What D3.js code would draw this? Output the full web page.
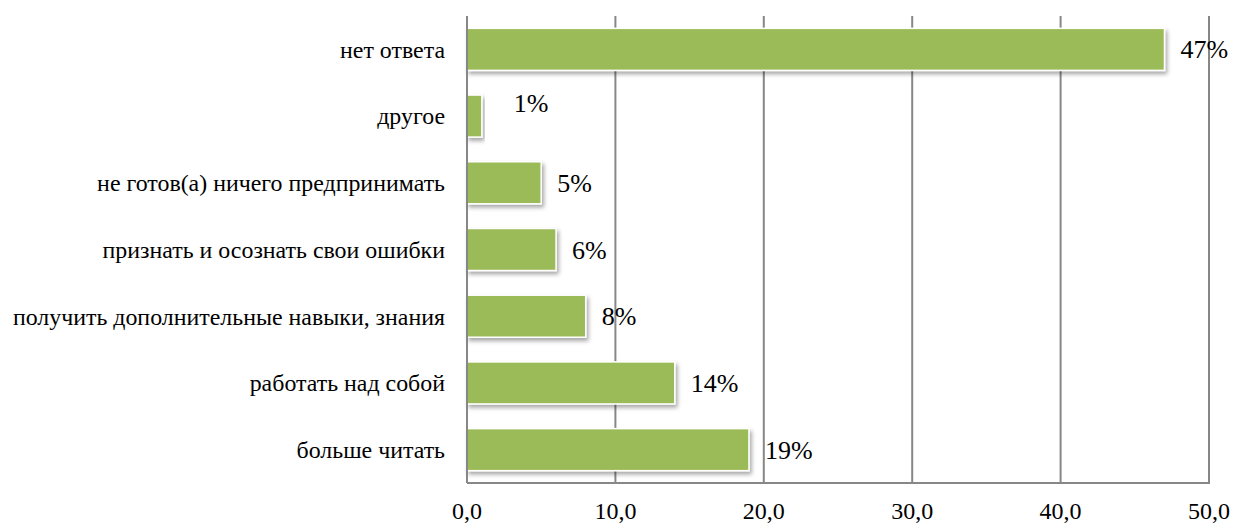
<!DOCTYPE html>
<html><head><meta charset="utf-8">
<script src="https://cdn.jsdelivr.net/npm/d3@7"></script>
<style>body{margin:0;background:#fff;} svg{display:block;}</style>
</head><body>
<svg id="c" width="1237" height="525" font-family="Liberation Serif"></svg>
<script>
const categories = ["нет ответа","другое","не готов(а) ничего предпринимать","признать и осознать свои ошибки","получить дополнительные навыки, знания","работать над собой","больше читать"];
const values = [47,1,5,6,8,14,19];
const valueLabels = ["47%","1%","5%","6%","8%","14%","19%"];
const tickValues = [0,10,20,30,40,50];
const tickLabels = ["0,0","10,0","20,0","30,0","40,0","50,0"];

const data = categories.map((c,i)=>({c, v: values[i], l: valueLabels[i]}));
const svg = d3.select("#c");
const m = {left:467, right:1209, top:16, bottom:483};
const x = d3.scaleLinear().domain([0,50]).range([m.left, m.right]);
const y = d3.scaleBand().domain(categories).range([m.top, m.bottom]).paddingInner(0.37).paddingOuter(0.185);

const defs = svg.append("defs");
const f = defs.append("filter").attr("id","sh").attr("x","-10%").attr("y","-30%").attr("width","130%").attr("height","170%");
f.append("feDropShadow").attr("dx",2).attr("dy",3).attr("stdDeviation",2).attr("flood-color","#000").attr("flood-opacity",0.35);

// gridlines
svg.append("g").selectAll("line").data(tickValues.slice(1)).join("line")
  .attr("x1",d=>x(d)).attr("x2",d=>x(d)).attr("y1",m.top).attr("y2",m.bottom)
  .attr("stroke","#878787").attr("stroke-width",2);

// bars
svg.append("g").selectAll("rect").data(data).join("rect")
  .attr("x",x(0)).attr("y",d=>y(d.c)).attr("width",d=>x(d.v)-x(0)).attr("height",y.bandwidth())
  .attr("fill","#9BBB59").attr("stroke","#fff").attr("stroke-width",1.5).attr("filter","url(#sh)");

// axis lines
svg.append("line").attr("x1",m.left).attr("x2",m.left).attr("y1",m.top).attr("y2",m.bottom).attr("stroke","#878787").attr("stroke-width",2);
svg.append("line").attr("x1",m.left).attr("x2",m.right+1).attr("y1",m.bottom).attr("y2",m.bottom).attr("stroke","#878787").attr("stroke-width",2);

// category labels
const cl = svg.append("g").selectAll("text").data(data).join("text")
  .attr("x",445).attr("y",d=>y(d.c)+y.bandwidth()/2).attr("dy","0.35em")
  .attr("text-anchor","end").attr("font-family","Liberation Serif").attr("font-size",20).attr("fill","#000")
  .text(d=>d.c);
const maxW = d3.max(cl.nodes(), n=>n.getComputedTextLength());
cl.attr("font-size", Math.round(20*433/maxW*10)/10);

// value labels
svg.append("g").selectAll("text").data(data).join("text")
  .attr("x",d=>x(d.v)+(d.v<2?32:16)).attr("y",d=>y(d.c)+y.bandwidth()/2-(d.v<2?13:0)).attr("dy","0.35em")
  .attr("font-family","Liberation Serif").attr("font-size",26).attr("fill","#000")
  .text(d=>d.l);

// tick labels
svg.append("g").selectAll("text").data(tickValues).join("text")
  .attr("x",d=>x(d)).attr("y",519).attr("text-anchor","middle")
  .attr("font-family","Liberation Serif").attr("font-size",24).attr("fill","#000")
  .text((d,i)=>tickLabels[i]);
</script>
</body></html>
